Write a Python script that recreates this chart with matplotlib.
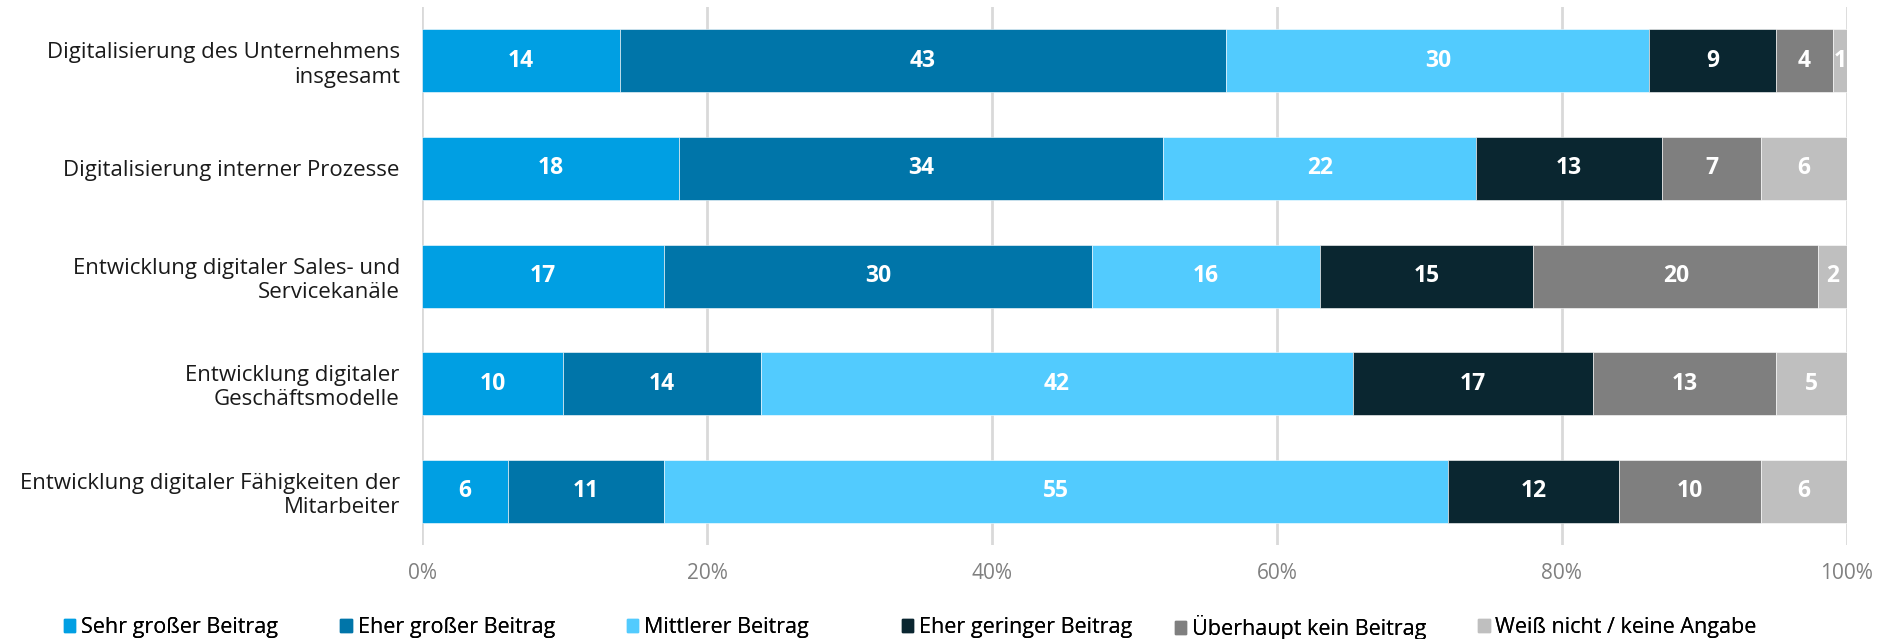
import numpy as np
import matplotlib
matplotlib.use("Agg")
import matplotlib.pyplot as plt
from matplotlib.patches import Patch

plt.rcParams['font.family'] = ['Open Sans', 'DejaVu Sans']

categories = [
    "Digitalisierung des Unternehmens\ninsgesamt",
    "Digitalisierung interner Prozesse",
    "Entwicklung digitaler Sales- und\nServicekanäle",
    "Entwicklung digitaler\nGeschäftsmodelle",
    "Entwicklung digitaler Fähigkeiten der\nMitarbeiter",
]
series_names = [
    "Sehr großer Beitrag",
    "Eher großer Beitrag",
    "Mittlerer Beitrag",
    "Eher geringer Beitrag",
    "Überhaupt kein Beitrag",
    "Weiß nicht / keine Angabe",
]
sehr_gross = [14, 18, 17, 10, 6]
eher_gross = [43, 34, 30, 14, 11]
mittel = [30, 22, 16, 42, 55]
eher_gering = [9, 13, 15, 17, 12]
kein = [4, 7, 20, 13, 10]
weiss_nicht = [1, 6, 2, 5, 6]
colors = ["#009FE3", "#0075A9", "#52CBFE", "#0A2630", "#7F7F7F", "#BFBFBF"]

data = np.array([sehr_gross, eher_gross, mittel, eher_gering, kein, weiss_nicht], dtype=float)
share = data / data.sum(axis=0) * 100  # 100% gestapelt

fig = plt.figure(figsize=(18.96, 6.39), dpi=100)
ax = fig.add_axes([0.2226, 0.147, 0.7515, 0.842])

y = np.arange(len(categories))
left = np.zeros(len(categories))
for i, name in enumerate(series_names):
    bars = ax.barh(y, share[i], left=left, height=0.585, color=colors[i],
                   edgecolor="white", linewidth=0.4, label=name, zorder=3)
    for j, b in enumerate(bars):
        ax.text(left[j] + share[i][j] / 2, y[j], f"{int(data[i][j])}",
                ha="center", va="center", color="white", fontsize=16.5,
                fontweight="bold", zorder=4)
    left += share[i]

ax.set_xlim(0, 100)
ax.set_ylim(len(categories) - 0.5, -0.5)
ax.set_yticks(y)
ax.set_yticklabels(categories, fontsize=16, color="#1a1a1a", linespacing=1.2)
ax.set_xticks(np.arange(0, 101, 20))
ax.set_xticklabels([f"{v}%" for v in range(0, 101, 20)], fontsize=15, color="#808080")
ax.tick_params(axis="y", length=0, pad=16)
ax.tick_params(axis="x", length=0, pad=13)
ax.grid(axis="x", color="#D9D9D9", linewidth=2, zorder=0)
for s in ax.spines.values():
    s.set_visible(False)

# Legende: Eintraege einzeln platziert wie im Original
leg_x = [0.0335, 0.1795, 0.3305, 0.4755, 0.6195, 0.7795]
for name, c, lx in zip(series_names, colors, leg_x):
    lg = fig.legend(handles=[Patch(color=c, label=name)], loc="center left",
                    bbox_to_anchor=(lx, 0.018), frameon=False, fontsize=15.5,
                    handlelength=0.55, handleheight=0.55, handletextpad=0.25,
                    borderpad=0, borderaxespad=0)
    fig.add_artist(lg)

fig.savefig("out.png", dpi=100)
